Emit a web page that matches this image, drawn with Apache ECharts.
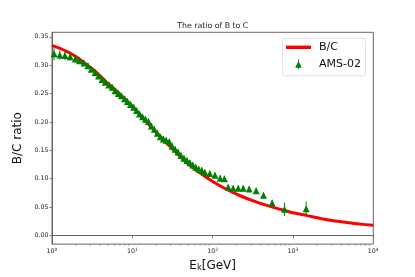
<!DOCTYPE html>
<html>
<head>
<meta charset="utf-8">
<script src="https://cdn.jsdelivr.net/npm/echarts@6/dist/echarts.min.js"></script>
<style>
html,body{margin:0;padding:0;background:#fff;}
#chart{width:415px;height:277px;}
</style>
</head>
<body>
<div id="chart"></div>
<script>
// Model curve B/C
const bcEnergy = [1, 1.5, 2, 2.7, 3.6, 4.8, 7, 10, 15, 22, 32, 47, 70, 100, 150, 220, 320, 470, 700, 1000, 1500, 2200, 3200, 4700, 6900, 10000];
const bcRatio  = [0.335, 0.325, 0.315, 0.301, 0.287, 0.270, 0.249, 0.227, 0.200, 0.175, 0.152, 0.129, 0.110, 0.095, 0.081, 0.070, 0.061, 0.053, 0.046, 0.040, 0.035, 0.030, 0.026, 0.023, 0.020, 0.018];

// AMS-02 data
const amsEnergy = [1.06, 1.25, 1.45, 1.68, 1.95, 2.2, 2.5, 2.8, 3.1, 3.45, 3.8, 4.2, 4.6, 5.1, 5.6, 6.1, 6.7, 7.3, 8.0, 8.7, 9.5, 10.4, 11.3, 12.3, 13.4, 14.6, 15.9, 17.3, 18.8, 20.5, 22.3, 24.3, 26.4, 28.8, 31.3, 34.1, 37.1, 40.4, 44.0, 47.9, 52.1, 56.7, 61.7, 67.2, 73.1, 80, 92, 107, 124, 140, 156, 180, 208, 240, 285, 348, 430, 550, 785, 1460];
const amsRatio  = [0.320, 0.318, 0.317, 0.315, 0.311, 0.308, 0.304, 0.299, 0.293, 0.287, 0.281, 0.275, 0.270, 0.265, 0.261, 0.255, 0.250, 0.246, 0.241, 0.236, 0.231, 0.226, 0.220, 0.214, 0.209, 0.205, 0.201, 0.193, 0.187, 0.180, 0.174, 0.170, 0.168, 0.165, 0.157, 0.152, 0.147, 0.141, 0.136, 0.132, 0.128, 0.124, 0.120, 0.117, 0.115, 0.111, 0.109, 0.106, 0.101, 0.100, 0.085, 0.083, 0.083, 0.083, 0.082, 0.079, 0.071, 0.057, 0.046, 0.047];
const amsError  = [0.011, 0.008, 0.008, 0.007, 0.006, 0.006, 0.005, 0.005, 0.005, 0.005, 0.005, 0.005, 0.005, 0.005, 0.005, 0.005, 0.005, 0.005, 0.005, 0.005, 0.005, 0.005, 0.005, 0.005, 0.005, 0.005, 0.005, 0.005, 0.005, 0.005, 0.005, 0.005, 0.005, 0.005, 0.005, 0.005, 0.005, 0.005, 0.005, 0.005, 0.005, 0.005, 0.005, 0.005, 0.005, 0.005, 0.005, 0.005, 0.005, 0.005, 0.005, 0.005, 0.005, 0.005, 0.005, 0.005, 0.005, 0.006, 0.012, 0.013];

// Axis ticks
const yTickValues = [0, 0.05, 0.10, 0.15, 0.20, 0.25, 0.30, 0.35];
const xMinorTicks = [2,3,4,5,6,7,8,9, 20,30,40,50,60,70,80,90, 200,300,400,500,600,700,800,900, 2000,3000,4000,5000,6000,7000,8000,9000];

const Y_MIN = -0.0152, Y_MAX = 0.358;
const AXIS_COLOR = '#666';
const TXT = '#222';
const FONT = 'DejaVu Sans';

const chart = echarts.init(document.getElementById('chart'), null, {renderer: 'canvas'});

const option = {
  backgroundColor: '#fff',
  animation: false,
  textStyle: {fontFamily: FONT},
  title: {
    text: 'The ratio of B to C',
    left: 212.7, top: 21.2, textAlign: 'center', padding: 0,
    textStyle: {fontSize: 7.8, fontWeight: 'normal', color: TXT, fontFamily: FONT, lineHeight: 9}
  },
  grid: {
    left: 52, right: 41.7, top: 32.3, bottom: 30,
    show: true, borderColor: AXIS_COLOR, borderWidth: 1, backgroundColor: 'transparent'
  },
  legend: {
    orient: 'vertical',
    left: 282.7, top: 38.3,
    padding: [3, 4.6, 5.5, 3.3],
    itemWidth: 25, itemHeight: 10, itemGap: 5,
    backgroundColor: '#fff',
    borderColor: '#d8d8d8', borderWidth: 0.8, borderRadius: 3,
    textStyle: {fontSize: 11, color: '#111', fontFamily: FONT, lineHeight: 12, padding: [0, 0, 0, 3]},
    data: [
      {name: 'B/C', icon: 'path://M0,0H25V3.4H0Z'},
      {name: 'AMS-02', icon: 'path://M5,0L9,8L1,8Z M4.5,-2H5.5V10H4.5Z'}
    ]
  },
  xAxis: {
    type: 'log', logBase: 10, min: 1, max: 10000,
    splitLine: {show: false},
    axisLine: {show: true, lineStyle: {color: AXIS_COLOR, width: 1}},
    axisTick: {show: true, length: 2.6, lineStyle: {color: AXIS_COLOR, width: 0.8}},
    minorTick: {show: false},
    axisLabel: {
      margin: 3,
      formatter: function (v) {
        const e = Math.round(Math.log10(v));
        return '{b|10}{s|' + e + '}';
      },
      rich: {
        b: {fontSize: 6.3, color: TXT, fontFamily: FONT},
        s: {fontSize: 4.5, color: TXT, fontFamily: FONT, padding: [0, 0, 4, 0]}
      }
    },
    name: '{e|E}{k|k}{e|[GeV]}',
    nameLocation: 'middle', nameGap: 11,
    nameTextStyle: {
      rich: {
        e: {fontSize: 12, color: '#111', fontFamily: FONT},
        k: {fontSize: 8.4, color: '#111', fontFamily: FONT, padding: [5, 0, 0, 0]}
      }
    }
  },
  yAxis: {
    type: 'value', min: Y_MIN, max: Y_MAX,
    splitLine: {show: false},
    axisLine: {show: true, lineStyle: {color: AXIS_COLOR, width: 1}},
    axisTick: {show: true, length: 2.6, customValues: yTickValues, lineStyle: {color: AXIS_COLOR, width: 0.8}},
    axisLabel: {
      customValues: yTickValues,
      margin: 3.5,
      fontSize: 6.3, color: TXT, fontFamily: FONT,
      formatter: function (v) { return v.toFixed(2); }
    },
    name: 'B/C ratio',
    nameLocation: 'middle', nameGap: 23, nameRotate: 90,
    nameTextStyle: {fontSize: 12, color: '#111', fontFamily: FONT}
  },
  series: [
    {
      name: 'B/C', type: 'line', smooth: 0.3,
      data: bcEnergy.map((e, i) => [e, bcRatio[i]]),
      showSymbol: false, symbol: 'none',
      lineStyle: {color: '#ff0000', width: 3},
      itemStyle: {color: '#ff0000'},
      z: 2
    },
    {
      name: 'AMS-02 err', type: 'custom',
      data: amsEnergy.map((e, i) => [e, amsRatio[i], amsError[i]]),
      encode: {x: 0, y: 1},
      renderItem: function (params, api) {
        const x = api.value(0), y = api.value(1), er = api.value(2);
        const p1 = api.coord([x, y - er]);
        const p2 = api.coord([x, y + er]);
        return {
          type: 'line',
          shape: {x1: p1[0], y1: p1[1], x2: p2[0], y2: p2[1]},
          style: {stroke: '#008000', lineWidth: 1}
        };
      },
      silent: true, z: 3
    },
    {
      name: 'AMS-02', type: 'scatter',
      data: amsEnergy.map((e, i) => [e, amsRatio[i]]),
      symbol: 'triangle', symbolSize: [7, 7],
      itemStyle: {color: '#008000', opacity: 1},
      z: 4
    },
    {
      name: 'minor ticks', type: 'custom',
      data: xMinorTicks.map(v => [v, Y_MIN]),
      encode: {x: 0, y: 1},
      clip: false,
      renderItem: function (params, api) {
        const p = api.coord([api.value(0), Y_MIN]);
        return {
          type: 'line',
          shape: {x1: p[0], y1: p[1], x2: p[0], y2: p[1] + 1.6},
          style: {stroke: AXIS_COLOR, lineWidth: 0.6}
        };
      },
      silent: true, z: 5
    }
  ]
};

chart.setOption(option);
</script>
</body>
</html>
